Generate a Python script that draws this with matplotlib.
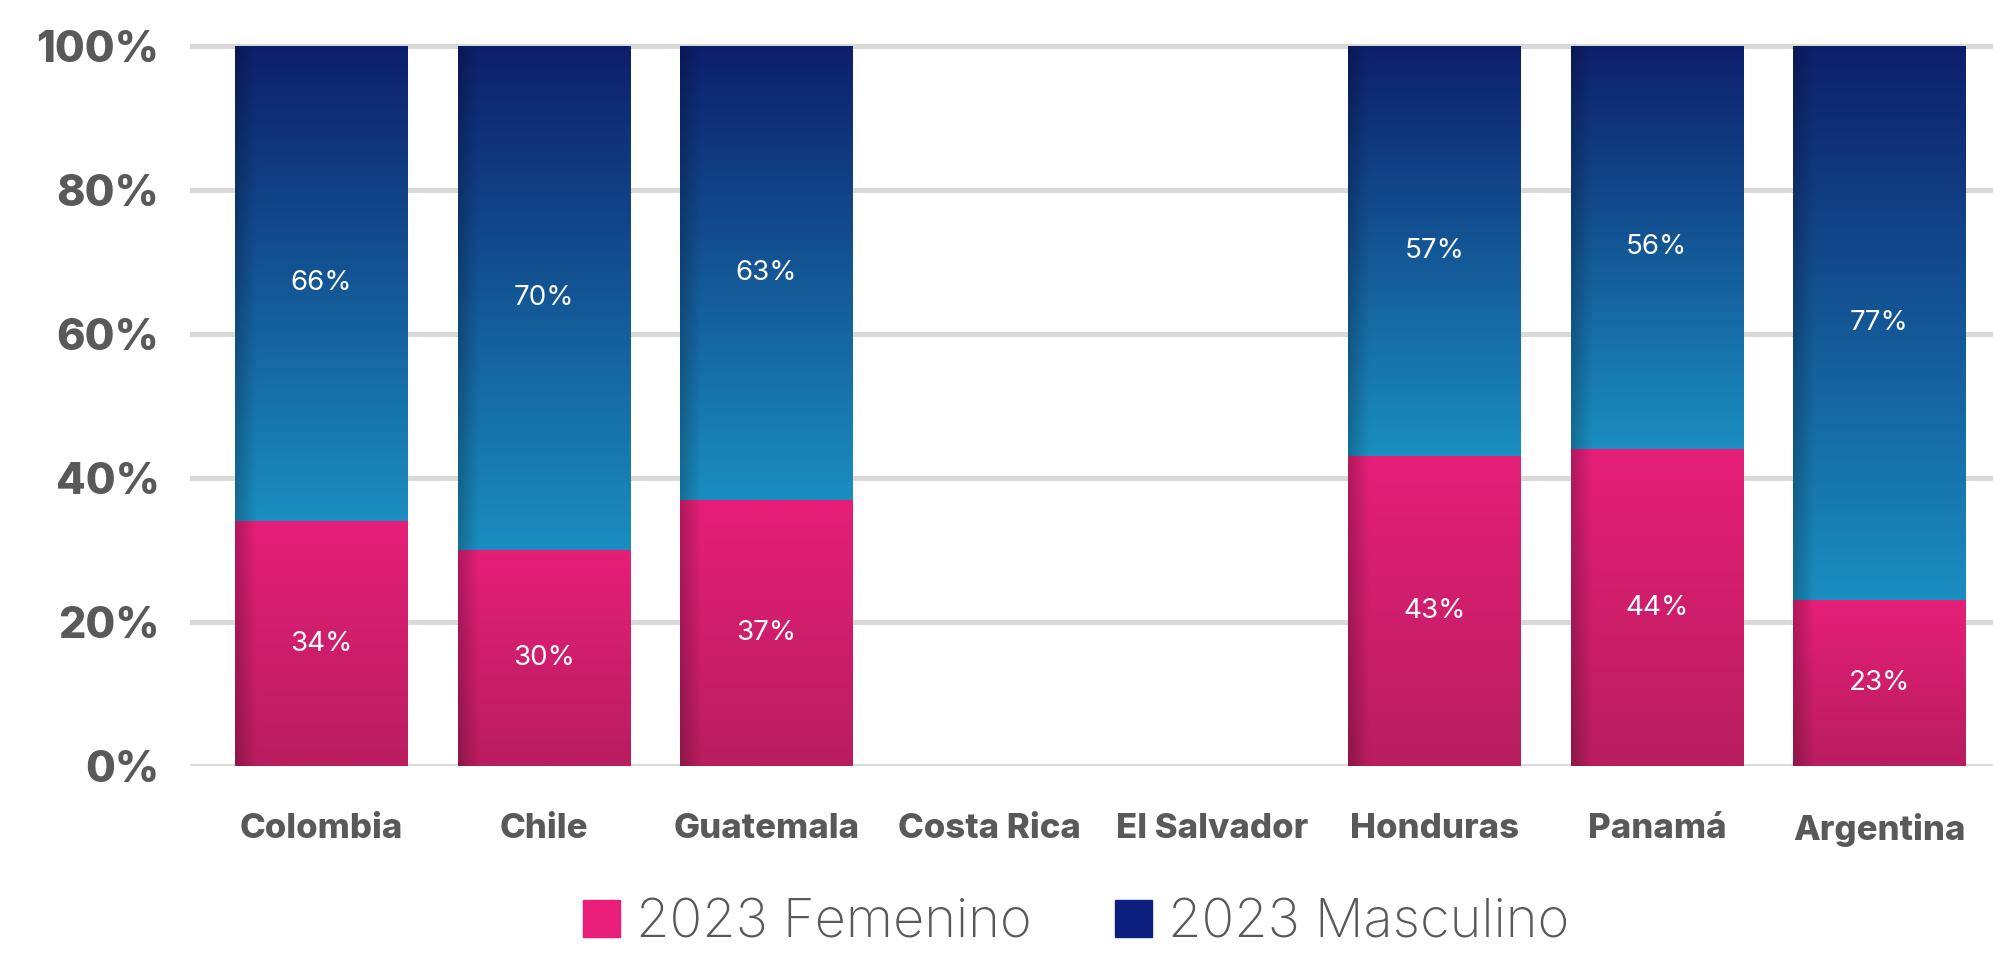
# 100% stacked bars, femenino / masculino 2023 by country
import numpy as np
import matplotlib.pyplot as plt
from matplotlib.colors import to_rgb
from matplotlib.patches import Patch
from matplotlib.ticker import PercentFormatter

paises = ["Colombia", "Chile", "Guatemala", "Costa Rica", "El Salvador",
          "Honduras", "Panamá", "Argentina"]
femenino = [34, 30, 37, np.nan, np.nan, 43, 44, 23]
masculino = [66, 70, 63, np.nan, np.nan, 57, 56, 77]
series = ["2023 Femenino", "2023 Masculino"]

gris = "#595959"
plt.rcParams["font.family"] = ["Inter", "DejaVu Sans"]

fig = plt.figure(figsize=(19.93, 9.56), dpi=100)
ax = fig.add_axes([0.0953, 0.1987, 0.9047, 0.776])

x = np.arange(len(paises))
fem = np.array(femenino) / 100
mas = np.array(masculino) / 100


def gradient(bar, top_col, bot_col):
    # vertical gradient with a darker strip on the left edge
    x0, y0 = bar.get_x(), bar.get_y()
    w, h = bar.get_width(), bar.get_height()
    if not np.isfinite(h) or h <= 0:
        return
    t = np.linspace(0, 1, 120)[:, None, None]
    top = np.array(to_rgb(top_col))
    bot = np.array(to_rgb(bot_col))
    img = bot + (top - bot) * t
    s = np.linspace(0, 1, 80)
    shade = 1 - 0.22 * np.clip(1 - s / 0.12, 0, 1)
    img = img * shade[None, :, None]
    im = ax.imshow(img, extent=[x0, x0 + w, y0, y0 + h], origin="lower",
                   aspect="auto", zorder=2, interpolation="bilinear")
    im.set_clip_path(bar)


bars_f = ax.bar(x, fem, width=0.773, color="#D81F6E", zorder=2)
bars_m = ax.bar(x, mas, width=0.773, bottom=fem, color="#12408E", zorder=2)

for b in bars_f:
    gradient(b, "#E61F78", "#B81D5E")
for b in bars_m:
    gradient(b, "#0D1F6C", "#1A8EC0")

for i in range(len(paises)):
    if np.isnan(fem[i]):
        continue
    ax.text(x[i], fem[i] / 2, f"{femenino[i]}%", ha="center", va="center",
            color="white", fontsize=20, zorder=4)
    ax.text(x[i], fem[i] + mas[i] / 2, f"{masculino[i]}%", ha="center",
            va="center", color="white", fontsize=20, zorder=4)

ax.set_xlim(-0.59, 7.51)
ax.set_ylim(0, 1.03)
ax.set_yticks(np.arange(0, 1.01, 0.2))
ax.yaxis.set_major_formatter(PercentFormatter(1.0, decimals=0))
ax.set_xticks(x)
ax.set_xticklabels(paises)
ax.tick_params(length=0)
ax.tick_params(axis="y", pad=22, labelsize=31, labelcolor=gris)
ax.tick_params(axis="x", pad=34, labelsize=25, labelcolor=gris)
for lab in ax.get_yticklabels() + ax.get_xticklabels():
    lab.set_fontweight("heavy")

ax.yaxis.grid(True, color="#D9D9D9", lw=3.6)
ax.set_axisbelow(True)
for sp in ax.spines.values():
    sp.set_visible(False)

handles = [Patch(color="#E91E7A"), Patch(color="#0D1F7E")]
leg = fig.legend(handles, series, loc="center", bbox_to_anchor=(0.54, 0.034),
                 ncol=2, frameon=False, fontsize=39, labelcolor=gris,
                 handlelength=0.68, handleheight=0.68, handletextpad=0.3,
                 columnspacing=1.55, borderaxespad=0)
for t in leg.get_texts():
    t.set_fontweight("light")

fig.savefig("out.png", dpi=100)
